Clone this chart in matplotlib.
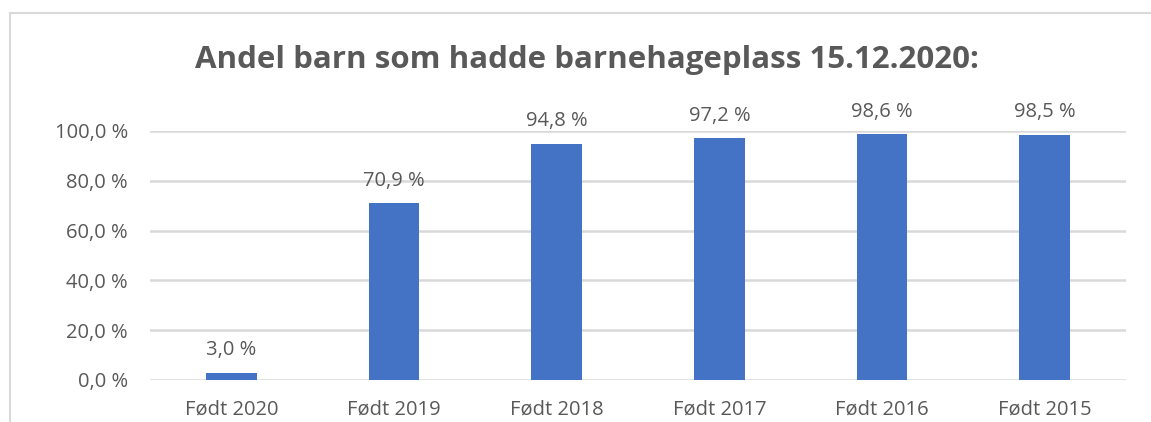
import matplotlib.pyplot as plt
from matplotlib.lines import Line2D

categories = ["Født 2020", "Født 2019", "Født 2018", "Født 2017", "Født 2016", "Født 2015"]
values = [3.0, 70.9, 94.8, 97.2, 98.6, 98.5]
yticks = [0, 20, 40, 60, 80, 100]

grey = "#595959"
bar_color = "#4472C4"
plt.rcParams['font.family'] = ['Open Sans', 'DejaVu Sans']


def pct(v):
    return f"{v:.1f}".replace(".", ",") + " %"


def main():
    fig = plt.figure(figsize=(11.51, 4.22), dpi=100)
    ax = fig.add_axes([150 / 1151, 1 - 380 / 422, 976 / 1151, 249 / 422])

    x = range(len(categories))
    bars = ax.bar(x, values, width=0.31, color=bar_color, zorder=3)
    for b, v in zip(bars, values):
        ax.text(b.get_x() + b.get_width() / 2, v + 5, pct(v), ha="center", va="bottom",
                fontsize=14.5, color=grey, clip_on=False)

    ax.set_xlim(-0.5, len(categories) - 0.5)
    ax.set_ylim(0, 100)
    ax.set_yticks(yticks)
    ax.set_yticklabels([pct(t) for t in yticks], fontsize=14.5, color=grey)
    ax.set_xticks(list(x))
    ax.set_xticklabels(categories, fontsize=14.5, color=grey)
    ax.tick_params(length=0)
    ax.tick_params(axis="x", pad=14)
    ax.tick_params(axis="y", pad=16)
    for s in ax.spines.values():
        s.set_visible(False)
    ax.yaxis.grid(True, color="#d9d9d9", linewidth=1.8, zorder=0)

    fig.text(587 / 1151, 1 - 60 / 422, "Andel barn som hadde barnehageplass 15.12.2020:",
             ha="center", va="center", fontsize=22.5, fontweight="bold", color=grey)

    # chart border (cropped screenshot: top and left edges only)
    y_top = 1 - 13 / 422
    x_left = 10 / 1151
    fig.add_artist(Line2D([x_left, 1], [y_top, y_top], color="#d9d9d9", linewidth=1.5))
    fig.add_artist(Line2D([x_left, x_left], [0, y_top], color="#d9d9d9", linewidth=1.5))

    fig.savefig("out.png", dpi=100)


if __name__ == "__main__":
    main()
